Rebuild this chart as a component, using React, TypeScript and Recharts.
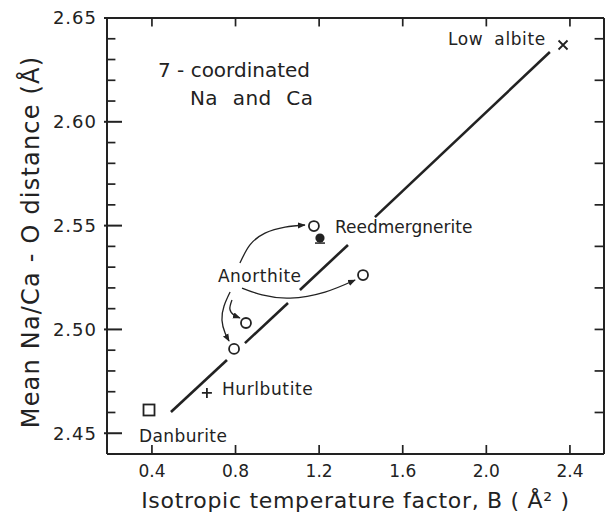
import React from 'react';
import {
  ComposedChart,
  Line,
  Scatter,
  XAxis,
  YAxis,
  ReferenceDot,
  ReferenceLine,
} from 'recharts';

// axis ticks
const xTicks = [0.4, 0.8, 1.2, 1.6, 2.0, 2.4];
const yMajorTicks = [2.45, 2.5, 2.55, 2.6, 2.65];
const yMinorTicks = [
  2.44, 2.46, 2.47, 2.48, 2.49, 2.51, 2.52, 2.53, 2.54,
  2.56, 2.57, 2.58, 2.59, 2.61, 2.62, 2.63, 2.64,
];
const yRightTicks = [2.46, 2.48, 2.5, 2.52, 2.54, 2.56, 2.58, 2.6, 2.62, 2.64];

// measured structures (B, mean Na/Ca-O)
const danburite = [{ x: 0.386, y: 2.4612 }];
const hurlbutite = [{ x: 0.663, y: 2.4694 }];
const anorthite = [
  { x: 0.793, y: 2.4906 },
  { x: 0.85, y: 2.5031 },
  { x: 1.41, y: 2.5262 },
  { x: 1.175, y: 2.5498 },
];
const reedmergnerite = [{ x: 1.204, y: 2.544 }];
const lowAlbite = [{ x: 2.367, y: 2.637 }];

// fitted line, drawn in pieces (gaps around symbols and text)
const trendPieces = [
  [{ x: 0.491, y: 2.4602 }, { x: 0.759, y: 2.4853 }],
  [{ x: 0.845, y: 2.4934 }, { x: 1.051, y: 2.5127 }],
  [{ x: 1.108, y: 2.519 }, { x: 1.338, y: 2.5407 }],
  [{ x: 1.467, y: 2.5541 }, { x: 2.304, y: 2.6336 }],
];

// curved arrows from the "Anorthite" label
const arrowPaths = [
  [
    { x: 0.821, y: 2.532 },
    { x: 0.869, y: 2.5407 },
    { x: 0.941, y: 2.5464 },
    { x: 1.037, y: 2.5493 },
    { x: 1.132, y: 2.5503 },
  ],
  [
    { x: 0.831, y: 2.5199 },
    { x: 0.927, y: 2.5166 },
    { x: 1.061, y: 2.5151 },
    { x: 1.228, y: 2.518 },
    { x: 1.372, y: 2.5238 },
  ],
  [
    { x: 0.783, y: 2.5142 },
    { x: 0.773, y: 2.5098 },
    { x: 0.793, y: 2.5069 },
    { x: 0.821, y: 2.5055 },
  ],
  [
    { x: 0.774, y: 2.518 },
    { x: 0.745, y: 2.5113 },
    { x: 0.735, y: 2.5045 },
    { x: 0.75, y: 2.4983 },
    { x: 0.769, y: 2.4944 },
  ],
];

// text notes, anchored at start of baseline
const notes = [
  { text: 'Low albite', x: 1.817, y: 2.637 },
  { text: '7 - coordinated', x: 0.429, y: 2.6216 },
  { text: 'Na and Ca', x: 0.582, y: 2.6081 },
  { text: 'Reedmergnerite', x: 1.276, y: 2.5464 },
  { text: 'Anorthite', x: 0.716, y: 2.5228 },
  { text: 'Hurlbutite', x: 0.735, y: 2.4684 },
  { text: 'Danburite', x: 0.338, y: 2.4458 },
];

const INK = '#222';
const FONT = '"DejaVu Sans", sans-serif';

const X_DOMAIN: [number, number] = [0.185, 2.563];
const Y_DOMAIN: [number, number] = [2.44, 2.65];
// tiny inset so tick anchors sit just inside the plot
const X_INSET = 0.002;
const Y_INSET = 0.0002;

const noteStyle: Record<string, { size: number; spacing: number; words?: number }> = {
  'Low albite': { size: 17, spacing: 0.6, words: 5 },
  '7 - coordinated': { size: 20, spacing: 0 },
  'Na and Ca': { size: 20, spacing: 0.4, words: 8 },
  Reedmergnerite: { size: 17, spacing: 0 },
  Anorthite: { size: 17, spacing: 0.5 },
  Hurlbutite: { size: 17, spacing: 0.6 },
  Danburite: { size: 17, spacing: 0.4 },
};

const OpenCircle = (p: any) => (
  <circle cx={p.cx} cy={p.cy} r={5} fill="#fff" stroke={INK} strokeWidth={1.8} />
);
const FilledCircle = (p: any) => (
  <g>
    <circle cx={p.cx} cy={p.cy} r={4.6} fill={INK} />
    <line x1={p.cx - 5} x2={p.cx + 5} y1={p.cy + 5} y2={p.cy + 5} stroke={INK} strokeWidth={1.5} />
  </g>
);
const Square = (p: any) => (
  <rect x={p.cx - 5.5} y={p.cy - 5.5} width={11} height={11} fill="none" stroke={INK} strokeWidth={1.8} />
);
const Plus = (p: any) => (
  <path d={`M${p.cx - 5},${p.cy}H${p.cx + 5}M${p.cx},${p.cy - 5}V${p.cy + 5}`} stroke={INK} strokeWidth={1.8} />
);
const Cross = (p: any) => (
  <path
    d={`M${p.cx - 4.5},${p.cy - 4.5}L${p.cx + 4.5},${p.cy + 4.5}M${p.cx + 4.5},${p.cy - 4.5}L${p.cx - 4.5},${p.cy + 4.5}`}
    stroke={INK}
    strokeWidth={1.8}
  />
);

// inward tick marks drawn as scatter shapes sitting on the frame
const tickShape = (dx: number, dy: number, w: number) => (p: any) => (
  <path d={`M${p.cx},${p.cy}l${dx},${dy}`} stroke={INK} strokeWidth={w} fill="none" />
);

// axis tick: label plus an inward tick line from the axis
const BottomTick = (p: any) => (
  <g>
    <line x1={p.x} x2={p.x} y1={p.y - 11} y2={p.y - 20} stroke={INK} strokeWidth={1.7} />
    <text x={p.x} y={p.y} dy="0.71em" textAnchor="middle" fill={INK} fontSize={17} fontFamily={FONT}>
      {Number(p.payload.value).toFixed(1)}
    </text>
  </g>
);
const LeftTick = (p: any) => (
  <g>
    <line x1={p.x + 7} x2={p.x + 25} y1={p.y} y2={p.y} stroke={INK} strokeWidth={2} />
    <text x={p.x} y={p.y} dy="0.355em" textAnchor="end" fill={INK} fontSize={18} fontFamily={FONT} letterSpacing={1}>
      {Number(p.payload.value).toFixed(2)}
    </text>
  </g>
);

const noteLabel = (text: string) => (props: any) => {
  const vb = props.viewBox || {};
  const st = noteStyle[text];
  return (
    <text
      x={vb.x}
      y={vb.y}
      fill={INK}
      fontSize={st.size}
      fontFamily={FONT}
      letterSpacing={st.spacing}
      wordSpacing={st.words || 0}
      style={{ whiteSpace: 'pre' }}
    >
      {text}
    </text>
  );
};

const yAxisLabel = (props: any) => {
  const vb = props.viewBox || {};
  const cx = vb.x + 31;
  const cy = vb.y + vb.height / 2 + 6;
  return (
    <text
      x={cx}
      y={cy}
      transform={`rotate(-90 ${cx} ${cy})`}
      textAnchor="middle"
      dominantBaseline="central"
      fill={INK}
      fontSize={24}
      fontFamily={FONT}
      letterSpacing={1.2}
    >
      Mean Na/Ca - O distance (Å)
    </text>
  );
};

const xAxisLabel = (props: any) => {
  const vb = props.viewBox || {};
  return (
    <text
      x={vb.x + vb.width / 2}
      y={vb.y + 54}
      textAnchor="middle"
      fill={INK}
      fontSize={22}
      fontFamily={FONT}
      letterSpacing={0.7}
    >
      Isotropic temperature factor, B ( Å² )
    </text>
  );
};

const frame = { stroke: INK, strokeWidth: 2, ifOverflow: 'visible' as const };

export default function App() {
  const [x0, x1] = X_DOMAIN;
  const [y0, y1] = Y_DOMAIN;
  const topTicks = xTicks.map((t) => ({ x: t, y: y1 - Y_INSET }));
  const leftMinor = yMinorTicks.map((t) => ({ x: x0 + X_INSET, y: t }));
  const rightTicks = yRightTicks.map((t) => ({ x: x1 - X_INSET, y: t }));

  return (
    <div style={{ position: 'absolute', left: 0, top: 0, width: 609, height: 517, background: '#fff' }}>
      <ComposedChart width={609} height={517} margin={{ top: 18, right: 5, bottom: 3, left: 0 }}>
        <defs>
          <marker id="ah" viewBox="0 0 10 10" refX="9" refY="5" markerWidth="6" markerHeight="6" orient="auto">
            <path d="M0,1 L10,5 L0,9 z" fill={INK} />
          </marker>
        </defs>

        <XAxis
          type="number"
          dataKey="x"
          domain={X_DOMAIN}
          ticks={xTicks}
          height={60}
          tickLine={false}
          tickSize={0}
          tickMargin={11}
          axisLine={false}
          tick={BottomTick}
          label={{ content: xAxisLabel }}
        />
        <YAxis
          type="number"
          domain={Y_DOMAIN}
          ticks={yMajorTicks}
          width={107}
          tickLine={false}
          tickSize={0}
          tickMargin={10}
          axisLine={false}
          tick={LeftTick}
          label={{ content: yAxisLabel }}
        />

        <ReferenceLine x={x0} {...frame} />
        <ReferenceLine x={x1} {...frame} />
        <ReferenceLine y={y0} {...frame} />
        <ReferenceLine y={y1} {...frame} />

        <Scatter data={topTicks} dataKey="y" shape={tickShape(0, 8, 1.7)} isAnimationActive={false} />
        <Scatter data={leftMinor} dataKey="y" shape={tickShape(8, 0, 1.7)} isAnimationActive={false} />
        <Scatter data={rightTicks} dataKey="y" shape={tickShape(-9, 0, 1.7)} isAnimationActive={false} />

        {trendPieces.map((seg, i) => (
          <Line
            key={`trend-${i}`}
            data={seg}
            dataKey="y"
            type="linear"
            stroke={INK}
            strokeWidth={2.6}
            dot={false}
            activeDot={false}
            isAnimationActive={false}
          />
        ))}

        {arrowPaths.map((pts, i) => (
          <Line
            key={`arrow-${i}`}
            data={pts}
            dataKey="y"
            type="natural"
            stroke={INK}
            strokeWidth={1.3}
            dot={false}
            activeDot={false}
            markerEnd="url(#ah)"
            isAnimationActive={false}
          />
        ))}

        <Scatter data={danburite} dataKey="y" shape={Square} isAnimationActive={false} />
        <Scatter data={hurlbutite} dataKey="y" shape={Plus} isAnimationActive={false} />
        <Scatter data={anorthite} dataKey="y" shape={OpenCircle} isAnimationActive={false} />
        <Scatter data={reedmergnerite} dataKey="y" shape={FilledCircle} isAnimationActive={false} />
        <Scatter data={lowAlbite} dataKey="y" shape={Cross} isAnimationActive={false} />

        {notes.map((n) => (
          <ReferenceDot
            key={n.text}
            x={n.x}
            y={n.y}
            r={0}
            fill="none"
            stroke="none"
            ifOverflow="visible"
            label={{ content: noteLabel(n.text) }}
          />
        ))}
      </ComposedChart>
    </div>
  );
}
